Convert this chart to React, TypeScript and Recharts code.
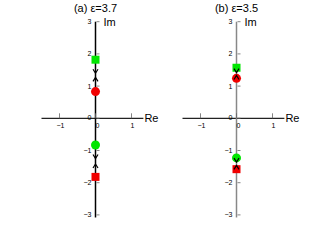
import React from 'react';
import { ScatterChart, Scatter, XAxis, YAxis, ReferenceLine } from 'recharts';

const xTicks = [-1, 0, 1];
const yTicks = [-3, -2, -1, 0, 1, 2, 3];
const titles = ['(a) ε=3.7', '(b) ε=3.5'];

// panel (a)
const aGreenSquare = [{ x: 0, y: 1.82 }];
const aRedCircle = [{ x: 0, y: 0.83 }];
const aGreenCircle = [{ x: 0, y: -0.83 }];
const aRedSquare = [{ x: 0, y: -1.82 }];
const aArrowDown = [{ x: 0, y: 1.4 }, { x: 0, y: -1.25 }];
const aArrowUp = [{ x: 0, y: 1.27 }, { x: 0, y: -1.42 }];

// panel (b)
const bGreenSquare = [{ x: 0, y: 1.57 }];
const bRedCircle = [{ x: 0, y: 1.24 }];
const bGreenCircle = [{ x: 0, y: -1.23 }];
const bRedSquare = [{ x: 0, y: -1.58 }];
const bArrowDown = [{ x: 0, y: 1.42 }, { x: 0, y: -1.36 }];
const bArrowUp = [{ x: 0, y: 1.33 }, { x: 0, y: -1.46 }];

const FONT = '"Liberation Sans", Arial, sans-serif';
const GREEN = '#00e600';
const RED = '#f00000';

const fmt = (v: number) => (v < 0 ? '\u2212' + Math.abs(v) : String(v));

const SquareShape = (color: string) => (p: any) => (
  <rect x={p.cx - 4} y={p.cy - 4} width={8} height={8} fill={color} />
);
const CircleShape = (color: string) => (p: any) => (
  <circle cx={p.cx} cy={p.cy} r={4.5} fill={color} />
);
const DownArrow = (p: any) => (
  <polyline points={`${p.cx - 2.5},${p.cy - 4} ${p.cx},${p.cy} ${p.cx + 2.5},${p.cy - 4}`} fill="none" stroke="#000" strokeWidth={1.2} />
);
const UpArrow = (p: any) => (
  <polyline points={`${p.cx - 2.5},${p.cy + 4} ${p.cx},${p.cy} ${p.cx + 2.5},${p.cy + 4}`} fill="none" stroke="#000" strokeWidth={1.2} />
);
const XTickShape = (p: any) => (
  <g>
    <line x1={p.cx} y1={p.cy - 5} x2={p.cx} y2={p.cy} stroke="#666" strokeWidth={0.8} />
    <text x={p.cx + (p.payload.x === 0 ? 2 : 1)} y={p.cy + 10} fontSize={7} fontFamily={FONT} fill="#000" textAnchor="middle">
      {fmt(p.payload.x)}
    </text>
  </g>
);
const YTickShape = (p: any) => (
  <g>
    <line x1={p.cx + 1} y1={p.cy} x2={p.cx + 4} y2={p.cy} stroke="#666" strokeWidth={0.8} />
    <text x={p.cx - 4} y={p.cy + (p.payload.y === 0 ? 1.5 : 2.5)} fontSize={7} fontFamily={FONT} fill="#000" textAnchor="end">
      {fmt(p.payload.y)}
    </text>
  </g>
);

const xTickData = xTicks.map((x) => ({ x, y: 0 }));
const yTickData = yTicks.map((y) => ({ x: 0, y }));

type PanelProps = {
  title: string;
  vColor: string;
  margin: any;
  width: number;
  gs: any[]; rc: any[]; gc: any[]; rs: any[]; ad: any[]; au: any[];
  vLineStart: number[];
  vLineEnd: number[];
};

const Panel = (pp: PanelProps) => (
  <ScatterChart width={pp.width} height={242} margin={pp.margin}>
    <XAxis type="number" dataKey="x" domain={[-2, 1.5]} hide allowDataOverflow />
    <YAxis type="number" dataKey="y" domain={[-3.5, 3.5]} hide allowDataOverflow />
    <ReferenceLine
      segment={[{ x: -1.5, y: 0 }, { x: 1.33, y: 0 }]}
      stroke="#222"
      strokeWidth={1.2}
      label={{ value: 'Re', position: 'right', fontSize: 11, fontFamily: FONT, fill: '#000', offset: 1 }}
    />
    <ReferenceLine
      segment={[{ x: 0, y: -3.08 }, { x: 0, y: 3 }]}
      stroke={pp.vColor}
      strokeWidth={1.5}
    />
    <Scatter data={xTickData} shape={XTickShape} isAnimationActive={false} />
    <Scatter data={yTickData} shape={YTickShape} isAnimationActive={false} />
    <Scatter data={pp.gs} shape={SquareShape(GREEN)} isAnimationActive={false} />
    <Scatter data={pp.rc} shape={CircleShape(RED)} isAnimationActive={false} />
    <Scatter data={pp.gc} shape={CircleShape(GREEN)} isAnimationActive={false} />
    <Scatter data={pp.rs} shape={SquareShape(RED)} isAnimationActive={false} />
    <Scatter data={pp.ad} shape={DownArrow} isAnimationActive={false} />
    <Scatter data={pp.au} shape={UpArrow} isAnimationActive={false} />
    <ReferenceLine
      segment={[{ x: 0, y: 3 }, { x: 0, y: 3 }]}
      stroke="none"
      label={{ value: 'Im', position: 'right', fontSize: 11, fontFamily: FONT, fill: '#000', offset: 8 }}
    />
    <text x={pp.margin.left + 72} y={12} textAnchor="middle" fontSize={11} fontFamily={FONT} fill="#000">
      {pp.title}
    </text>
  </ScatterChart>
);

export default function App() {
  return (
    <div style={{ position: 'absolute', left: 0, top: 0, width: 321, height: 242, background: '#fff', display: 'flex' }}>
      <Panel
        title={titles[0]}
        vColor="#000"
        width={160}
        margin={{ top: 5.6, bottom: 11.0, left: 23.5, right: 10.5 }}
        gs={aGreenSquare} rc={aRedCircle} gc={aGreenCircle} rs={aRedSquare} ad={aArrowDown} au={aArrowUp}
        vLineStart={[]} vLineEnd={[]}
      />
      <Panel
        title={titles[1]}
        vColor="#888"
        width={161}
        margin={{ top: 5.6, bottom: 11.0, left: 4.5, right: 30.5 }}
        gs={bGreenSquare} rc={bRedCircle} gc={bGreenCircle} rs={bRedSquare} ad={bArrowDown} au={bArrowUp}
        vLineStart={[]} vLineEnd={[]}
      />
    </div>
  );
}
